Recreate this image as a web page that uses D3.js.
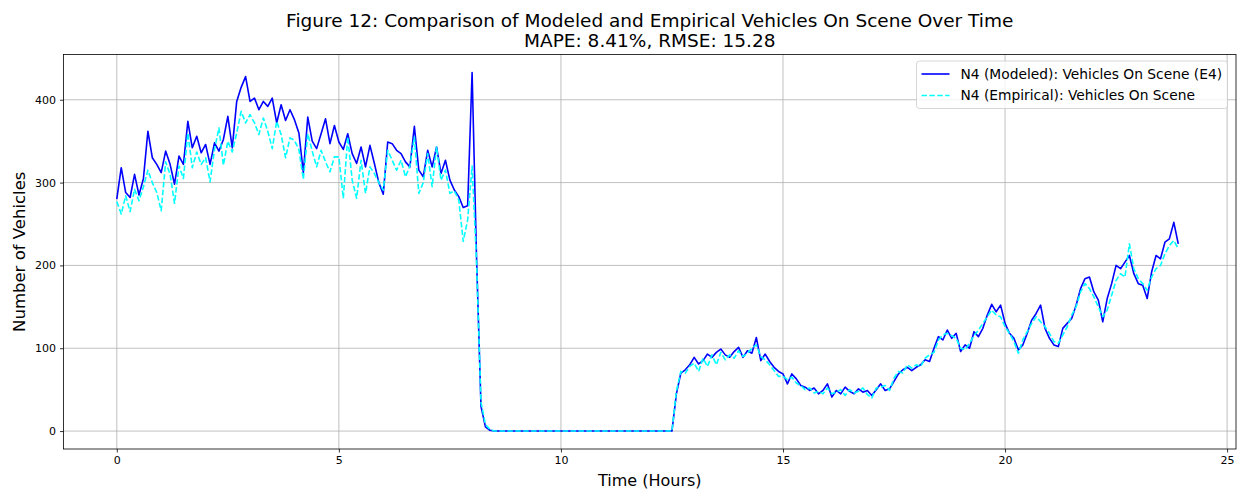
<!DOCTYPE html>
<html>
<head>
<meta charset="utf-8">
<script src="https://cdn.jsdelivr.net/npm/d3@7"></script>
<style>
  body { margin: 0; background: #fff; }
  svg { display: block; font-family: "DejaVu Sans", sans-serif; }
</style>
</head>
<body>
<div id="chart"></div>
<script>
// Samples every 0.1 h.
const STEP = 0.1;

const modeled = [
  280, 318, 288, 282, 310, 285, 305, 362, 330, 322, // 0
  312, 338, 322, 298, 332, 322, 374, 342, 356, 336, // 1
  346, 322, 348, 338, 352, 380, 342, 398, 415, 428, // 2
  398, 402, 388, 398, 392, 402, 372, 394, 375, 388, // 3
  376, 360, 312, 379, 350, 341, 359, 377, 347, 369, // 4
  349, 340, 359, 335, 323, 343, 319, 345, 323, 300, // 5
  286, 349, 347, 339, 335, 325, 319, 368, 315, 307, // 6
  339, 319, 343, 311, 327, 303, 291, 283, 270, 272, // 7
  433, 210, 30, 5, 1, 0, 0, 0, 0, 0,                // 8
  0, 0, 0, 0, 0, 0, 0, 0, 0, 0,                     // 9
  0, 0, 0, 0, 0, 0, 0, 0, 0, 0,                     // 10
  0, 0, 0, 0, 0, 0, 0, 0, 0, 0,                     // 11
  0, 0, 0, 0, 0, 0, 45, 70, 74, 80,                 // 12
  89, 81, 85, 93, 89, 95, 99, 92, 89, 96,           // 13
  101, 89, 97, 94, 113, 85, 93, 84, 77, 72,         // 14
  69, 57, 69, 63, 55, 53, 49, 52, 45, 49,           // 15
  57, 41, 49, 45, 53, 48, 45, 51, 47, 49,           // 16
  43, 50, 57, 49, 51, 60, 69, 74, 77, 73,           // 17
  77, 80, 86, 84, 100, 114, 110, 122, 112, 118,     // 18
  96, 104, 100, 120, 114, 124, 140, 153, 144, 152,  // 19
  130, 118, 112, 98, 104, 118, 134, 142, 152, 124,  // 20
  112, 104, 102, 124, 130, 136, 152, 172, 184, 186, // 21
  168, 158, 132, 160, 178, 200, 196, 204, 212, 190, // 22
  178, 176, 160, 192, 212, 208, 228, 232, 252, 226  // 23
];

const empirical = [
  277, 262, 284, 265, 292, 278, 295, 315, 300, 288, // 0
  266, 325, 310, 275, 320, 305, 360, 318, 337, 322, // 1
  330, 301, 340, 366, 321, 350, 337, 360, 386, 372, // 2
  382, 372, 358, 378, 362, 341, 374, 358, 330, 354, // 3
  351, 340, 304, 359, 338, 319, 339, 325, 313, 331, // 4
  331, 281, 355, 303, 281, 327, 287, 319, 311, 300, // 5
  291, 339, 327, 315, 327, 307, 320, 355, 287, 300, // 6
  335, 295, 343, 303, 315, 287, 290, 279, 229, 255, // 7
  320, 205, 35, 8, 2, 0, 0, 0, 0, 0,                // 8
  0, 0, 0, 0, 0, 0, 0, 0, 0, 0,                     // 9
  0, 0, 0, 0, 0, 0, 0, 0, 0, 0,                     // 10
  0, 0, 0, 0, 0, 0, 0, 0, 0, 0,                     // 11
  0, 0, 0, 0, 0, 0, 48, 72, 70, 78,                 // 12
  82, 72, 88, 78, 92, 80, 95, 86, 92, 88,           // 13
  97, 90, 94, 100, 104, 90, 86, 80, 73, 66,         // 14
  66, 62, 65, 58, 55, 50, 52, 46, 48, 45,           // 15
  52, 45, 47, 50, 43, 50, 46, 48, 52, 44,           // 16
  40, 52, 53, 55, 49, 64, 72, 70, 80, 76,           // 17
  80, 78, 88, 92, 95, 110, 116, 118, 115, 112,      // 18
  100, 98, 106, 115, 122, 130, 138, 146, 140, 138,  // 19
  126, 118, 108, 94, 110, 120, 130, 138, 132, 126,  // 20
  118, 108, 106, 116, 126, 140, 150, 168, 178, 172, // 21
  162, 150, 138, 146, 164, 182, 190, 186, 226, 196, // 22
  184, 178, 170, 186, 196, 200, 214, 224, 230, 220  // 23
];

const xTicks = [0, 5, 10, 15, 20, 25];
const yTicks = [0, 100, 200, 300, 400];

const titleLines = [
  'Figure 12: Comparison of Modeled and Empirical Vehicles On Scene Over Time',
  'MAPE: 8.41%, RMSE: 15.28'
];
const series = [
  { name: 'N4 (Modeled): Vehicles On Scene (E4)', color: '#0000ff', dash: null, values: modeled },
  { name: 'N4 (Empirical): Vehicles On Scene', color: '#00ffff', dash: '5.5,2.4', values: empirical }
];

const W = 1243, H = 492;
const margin = { left: 63.5, right: 7, top: 54.5, bottom: 43 };
const innerW = W - margin.left - margin.right;
const innerH = H - margin.top - margin.bottom;

const svg = d3.select('#chart').append('svg')
  .attr('width', W).attr('height', H)
  .attr('viewBox', `0 0 ${W} ${H}`);
const g = svg.append('g').attr('transform', `translate(${margin.left},${margin.top})`);

const x = d3.scaleLinear().domain([-1.2, 25.2]).range([0, innerW]);
const y = d3.scaleLinear().domain([-21.65, 454.65]).range([innerH, 0]);

// grid (matplotlib-like light grey)
g.append('g').selectAll('line').data(xTicks).join('line')
  .attr('x1', (d) => x(d)).attr('x2', (d) => x(d))
  .attr('y1', 0).attr('y2', innerH)
  .attr('stroke', '#b0b0b0').attr('stroke-width', 0.8);
g.append('g').selectAll('line').data(yTicks).join('line')
  .attr('y1', (d) => y(d)).attr('y2', (d) => y(d))
  .attr('x1', 0).attr('x2', innerW)
  .attr('stroke', '#b0b0b0').attr('stroke-width', 0.8);

// series
const line = d3.line()
  .x((d, i) => x(i * STEP))
  .y((d) => y(d));
const plot = g.append('g');
series.forEach((s) => {
  plot.append('path')
    .datum(s.values)
    .attr('d', line)
    .attr('fill', 'none')
    .attr('stroke', s.color)
    .attr('stroke-width', 1.6)
    .attr('stroke-linejoin', 'round')
    .attr('stroke-dasharray', s.dash);
});

// axes
const xAx = g.append('g').attr('transform', `translate(0,${innerH})`)
  .call(d3.axisBottom(x).tickValues(xTicks).tickSize(3.5).tickPadding(4).tickFormat(d3.format('d')));
const yAx = g.append('g')
  .call(d3.axisLeft(y).tickValues(yTicks).tickSize(3.5).tickPadding(4).tickFormat(d3.format('d')));
[xAx, yAx].forEach((a) => {
  a.select('.domain').remove();
  a.selectAll('line').attr('stroke', '#000').attr('stroke-width', 0.8);
  a.selectAll('text').attr('fill', '#000').style('font-size', '11px').style('font-family', '"DejaVu Sans", sans-serif');
});

// frame
g.append('rect').attr('width', innerW).attr('height', innerH)
  .attr('fill', 'none').attr('stroke', '#000').attr('stroke-width', 0.8);

// titles
const title = svg.append('text').attr('text-anchor', 'middle')
  .attr('x', margin.left + innerW / 2).attr('y', 27)
  .style('font-size', '18.5px').attr('fill', '#000');
titleLines.forEach((t, i) => {
  title.append('tspan').attr('x', margin.left + innerW / 2).attr('dy', i ? 19.5 : 0).text(t);
});

svg.append('text').attr('text-anchor', 'middle')
  .attr('x', margin.left + innerW / 2).attr('y', 486)
  .style('font-size', '16px').text('Time (Hours)');
svg.append('text').attr('text-anchor', 'middle')
  .attr('transform', `translate(25,${margin.top + innerH / 2}) rotate(-90)`)
  .style('font-size', '16.5px').text('Number of Vehicles');

// legend, top right
const lg = g.append('g').attr('transform', `translate(${innerW - 319.5},6.5)`);
lg.append('rect').attr('width', 311).attr('height', 47.5).attr('rx', 3)
  .attr('fill', '#fff').attr('fill-opacity', 0.8)
  .attr('stroke', '#cccccc').attr('stroke-width', 0.8);
series.forEach((s, i) => {
  const row = lg.append('g').attr('transform', `translate(0,${13 + i * 21.5})`);
  row.append('line').attr('x1', 5).attr('x2', 33)
    .attr('stroke', s.color).attr('stroke-width', 1.6)
    .attr('stroke-dasharray', s.dash);
  row.append('text').attr('x', 44).attr('dy', '0.35em')
    .style('font-size', '13.8px').attr('fill', '#000').text(s.name);
});
</script>
</body>
</html>
